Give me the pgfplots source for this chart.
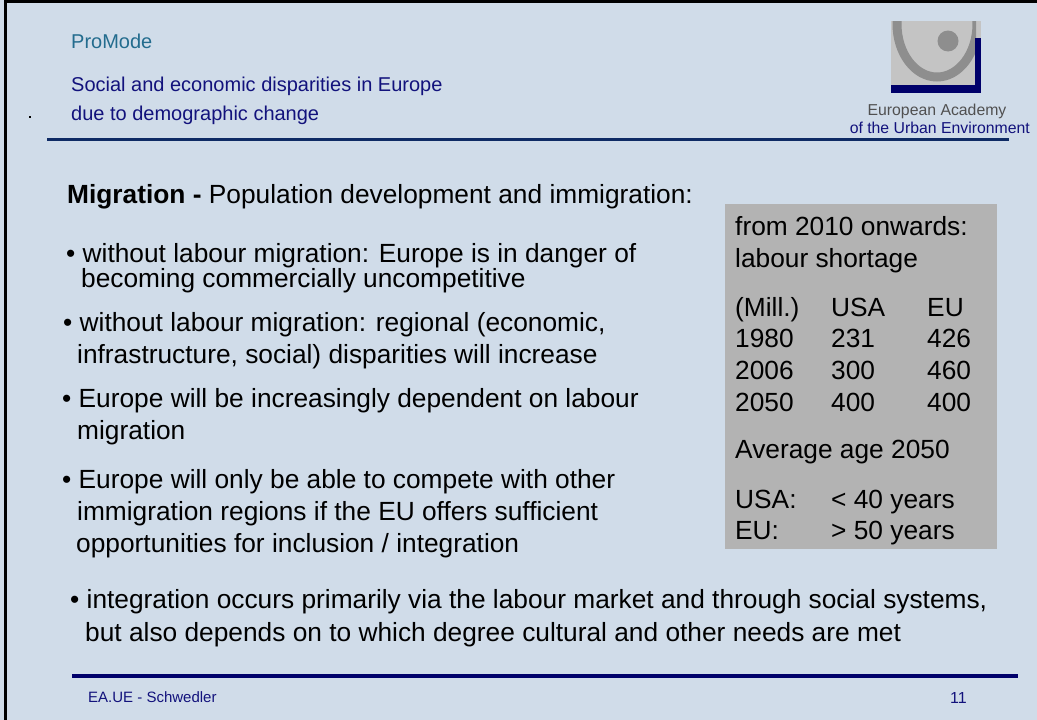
\documentclass[border=0pt]{standalone}
\usepackage{pgfplots}
\pgfplotsset{compat=1.18}
\usepackage{pgfplotstable}
\usepackage{fontspec}
\setmainfont{Liberation Sans}
\definecolor{bg}{HTML}{D0DCE9}
\definecolor{navy}{HTML}{00006A}
\definecolor{hnavy}{HTML}{0E2A64}
\definecolor{titlenavy}{HTML}{12127C}
\definecolor{tealc}{HTML}{236C8E}
\definecolor{boxgray}{HTML}{B3B3B3}
\definecolor{logolight}{HTML}{C4C4C4}
\definecolor{logodark}{HTML}{8E8E8E}
\definecolor{acadgray}{HTML}{505050}
\newcommand\fs[1]{\fontsize{#1}{#1}\selectfont}

\pgfplotstableread{
year usa eu y
1980 231 426 347
2006 300 460 379
2050 400 400 411
}\popdata

\begin{document}
\begin{tikzpicture}
\begin{axis}[
  width=1037pt, height=720pt, scale only axis,
  xmin=0, xmax=1037, ymin=0, ymax=720, y dir=reverse,
  hide axis, clip=false,
  axis background/.style={fill=bg},
  point meta=explicit symbolic,
]
% frame
\fill[black] (axis cs:4,0) rectangle (axis cs:6.5,720);
\fill[black] (axis cs:4,0) rectangle (axis cs:1037,3);
\fill[black] (axis cs:29,116) rectangle (axis cs:31,118);

% header
\node[anchor=base west, inner sep=0pt, font=\fs{20}, text=tealc] at (axis cs:71,48) {ProMode};
\node[anchor=base west, inner sep=0pt, font=\fs{20}, text=titlenavy] at (axis cs:71,91) {Social and economic disparities in Europe};
\node[anchor=base west, inner sep=0pt, font=\fs{20}, text=titlenavy] at (axis cs:71,120) {due to demographic change};
\fill[hnavy] (axis cs:47,137.5) rectangle (axis cs:1009,141);

% logo
\fill[logolight] (axis cs:891,21) rectangle (axis cs:981,93);
\begin{scope}
\clip (axis cs:891,21) rectangle (axis cs:976,85);
\draw[logodark, line width=9pt] (axis cs:937,24) ellipse [x radius=40pt, y radius=53pt];
\end{scope}
\fill[logodark] (axis cs:948,41) circle [radius=10.5pt];
\fill[navy] (axis cs:975,38) rectangle (axis cs:981,93);
\fill[navy] (axis cs:891,85) rectangle (axis cs:981,93);
\node[anchor=base, inner sep=0pt, font=\fs{15.8}, text=acadgray] at (axis cs:937,115) {European Academy};
\node[anchor=base east, inner sep=0pt, font=\fs{15.8}, text=titlenavy] at (axis cs:1030,133) {of the Urban Environment};

% main text
\node[anchor=base west, inner sep=0pt, font=\fs{26.3}] at (axis cs:67,203) {\textbf{Migration -} Population development and immigration:};
\node[anchor=base west, inner sep=0pt, font=\fs{26.3}] at (axis cs:66,262) {• without labour migration: Europe is in danger of};
\node[anchor=base west, inner sep=0pt, font=\fs{26.3}] at (axis cs:81,287) {becoming commercially uncompetitive};
\node[anchor=base west, inner sep=0pt, font=\fs{26.3}] at (axis cs:63,331) {• without labour migration: regional (economic,};
\node[anchor=base west, inner sep=0pt, font=\fs{26.3}] at (axis cs:77,363) {infrastructure, social) disparities will increase};
\node[anchor=base west, inner sep=0pt, font=\fs{26.3}] at (axis cs:62,407) {• Europe will be increasingly dependent on labour};
\node[anchor=base west, inner sep=0pt, font=\fs{26.3}] at (axis cs:77,439) {migration};
\node[anchor=base west, inner sep=0pt, font=\fs{26.3}] at (axis cs:62,488) {• Europe will only be able to compete with other};
\node[anchor=base west, inner sep=0pt, font=\fs{26.3}] at (axis cs:77,520) {immigration regions if the EU offers sufficient};
\node[anchor=base west, inner sep=0pt, font=\fs{26.3}] at (axis cs:76,552) {opportunities for inclusion / integration};
\node[anchor=base west, inner sep=0pt, font=\fs{26.3}] at (axis cs:70,608) {• integration occurs primarily via the labour market and through social systems,};
\node[anchor=base west, inner sep=0pt, font=\fs{26.3}] at (axis cs:85,641) {but also depends on to which degree cultural and other needs are met};

% grey box
\fill[boxgray] (axis cs:725,204) rectangle (axis cs:997,549);
\node[anchor=base west, inner sep=0pt, font=\fs{26.3}] at (axis cs:735,235) {from 2010 onwards:};
\node[anchor=base west, inner sep=0pt, font=\fs{26.3}] at (axis cs:735,267) {labour shortage};
\node[anchor=base west, inner sep=0pt, font=\fs{26.3}] at (axis cs:735,316) {(Mill.)};
\node[anchor=base west, inner sep=0pt, font=\fs{26.3}] at (axis cs:831,316) {USA};
\node[anchor=base west, inner sep=0pt, font=\fs{26.3}] at (axis cs:927,316) {EU};
\node[anchor=base west, inner sep=0pt, font=\fs{26.3}] at (axis cs:735,458) {Average age 2050};
\node[anchor=base west, inner sep=0pt, font=\fs{26.3}] at (axis cs:735,508) {USA:};
\node[anchor=base west, inner sep=0pt, font=\fs{26.3}] at (axis cs:831,508) {< 40 years};
\node[anchor=base west, inner sep=0pt, font=\fs{26.3}] at (axis cs:735,539) {EU:};
\node[anchor=base west, inner sep=0pt, font=\fs{26.3}] at (axis cs:831,539) {> 50 years};

\addplot[draw=none, mark=none, forget plot, nodes near coords={\pgfplotspointmeta},
  every node near coord/.append style={anchor=base west, inner sep=0pt, font=\fs{26.3}, text=black}]
  table[x expr=735, y=y, meta=year] {\popdata};
\addplot[draw=none, mark=none, forget plot, nodes near coords={\pgfplotspointmeta},
  every node near coord/.append style={anchor=base west, inner sep=0pt, font=\fs{26.3}, text=black}]
  table[x expr=831, y=y, meta=usa] {\popdata};
\addplot[draw=none, mark=none, forget plot, nodes near coords={\pgfplotspointmeta},
  every node near coord/.append style={anchor=base west, inner sep=0pt, font=\fs{26.3}, text=black}]
  table[x expr=927, y=y, meta=eu] {\popdata};

% footer
\fill[navy] (axis cs:72,674) rectangle (axis cs:1018,678);
\node[anchor=base west, inner sep=0pt, font=\fs{15}, text=titlenavy] at (axis cs:88,702) {EA.UE - Schwedler};
\node[anchor=base west, inner sep=0pt, font=\fs{16}, text=titlenavy] at (axis cs:950,703) {11};
\end{axis}
\end{tikzpicture}
\end{document}
